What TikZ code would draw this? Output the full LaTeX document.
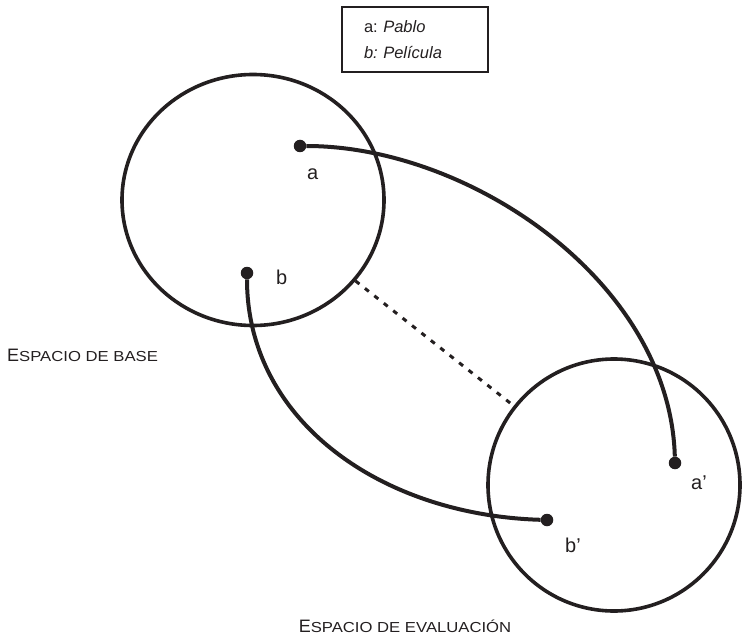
\documentclass[tikz,border=0pt]{standalone}
\usepackage{fontspec}
\setmainfont{Liberation Sans}
\newfontfamily\scfont[FakeStretch=1.15]{Liberation Sans}
\usetikzlibrary{shapes.geometric}
\definecolor{ink}{HTML}{231F20}
\newcommand{\espacio}[1]{{\fontsize{18}{18}\selectfont E}{\fontsize{14.5}{14.5}\scfont #1}}
\frenchspacing

\begin{document}
\begin{tikzpicture}[x=1pt, y=-1pt, color=ink,
    space/.style={draw, line width=3.6pt, ellipse, inner sep=0pt},
    dot/.style={circle, fill, inner sep=0pt, minimum size=12.5pt},
    link/.style={line width=4pt},
    lbl/.style={font=\fontsize{20}{20}\selectfont, anchor=base west, inner sep=0pt}]
    \useasboundingbox (0,0) rectangle (743,644);
    % the two spaces
    \node[space, minimum width=262pt, minimum height=251pt] (base) at (253,200) {};
    \node[space, minimum width=252pt, minimum height=252pt] (eval) at (614,485) {};
    \draw[line width=3pt, dash pattern=on 5pt off 7pt] (base) -- (eval);
    % elements and their counterparts
    \node[dot] (a) at (300,146) {};
    \node[dot] (b) at (247,273) {};
    \node[dot] (ap) at (675,463) {};
    \node[dot] (bp) at (547,520) {};
    \draw[link] (a) .. controls (470,146) and (670,282) .. (ap);
    \draw[link] (b) .. controls (247,420) and (380,515) .. (bp);
    \node[lbl] (alab) at (307,180) {a};
    \node[lbl] (blab) at (276,284) {b};
    \node[lbl] (aplab) at (691,489) {a'};
    \node[lbl] (bplab) at (565,552) {b'};
    % key
    \node[draw, line width=2pt, minimum width=146pt, minimum height=65pt, text width=102pt,
        inner xsep=22pt, align=left, font=\fontsize{16.5}{26}\selectfont] (key) at (415,39.5)
        {a: \textit{Pablo}\\\textit{b: Película}};
    \node[anchor=base west, inner sep=0pt] (baselab) at (7,361) {\espacio{SPACIO DE BASE}};
    \node[anchor=base, inner sep=0pt] (evallab) at (405,632) {\espacio{SPACIO DE EVALUACIÓN}};
\end{tikzpicture}
\end{document}
